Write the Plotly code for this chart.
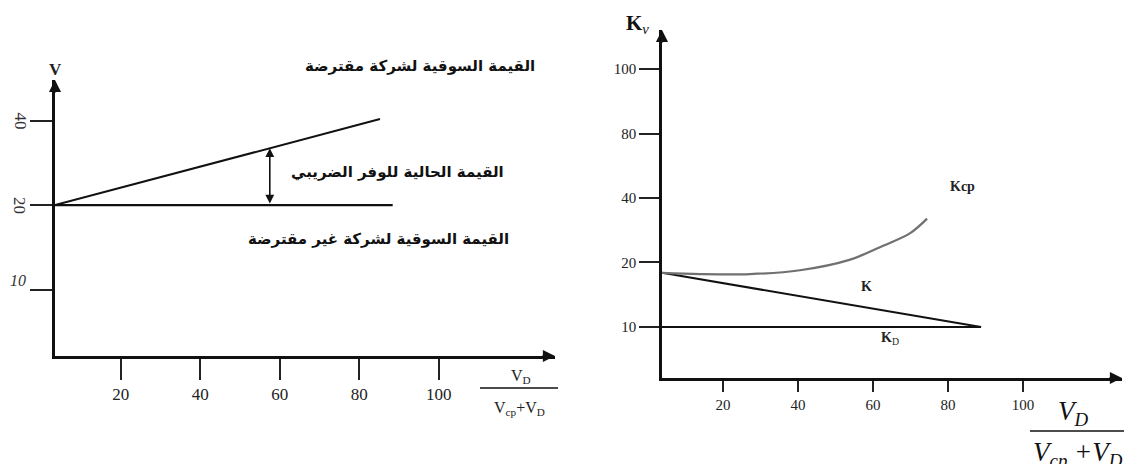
import numpy as np
import plotly.graph_objects as go

W, H = 1124, 464

# ---------------- Left panel: firm value V vs. debt ratio ----------------
v_xticks = [20, 40, 60, 80, 100]
v_yticks = [10, 20, 40]
v_ytick_labels = ["10", "20", "40"]
unlev_x = [3.5, 88.4]          # market value of unlevered firm
unlev_v = [20, 20]
lev_x = [3.5, 85.2]            # market value of levered firm
lev_v = [20, 40.5]
shield_x = 57.5                # present value of tax shield (arrow)

# ---------------- Right panel: cost of capital vs. debt ratio ----------------
k_xticks = [20, 40, 60, 80, 100]
k_yticks = [10, 20, 40, 80, 100]
k_ytick_labels = ["10", "20", "40", "80", "100"]
kd_x = [3.7, 88.8]
kd_y = [10, 10]
k_x = [3.7, 88.8]
k_y = [18.4, 10]
kcp_x = [3.7, 13.9, 27.2, 40.5, 53.9, 62.7, 69.9, 74.4]
kcp_y = [18.4, 18.2, 18.2, 18.8, 20.9, 25.2, 29.1, 33.6]

txt_lev = "القيمة السوقية لشركة مقترضة"
txt_shield = "القيمة الحالية للوفر الضريبي"
txt_unlev = "القيمة السوقية لشركة غير مقترضة"


def kscale(v):
    return np.interp(v, k_yticks, np.arange(len(k_yticks)))


def px(x):
    return x / W


def py(y):
    return 1 - y / H


SERIF = "Liberation Serif, Times New Roman, serif"
AR = "DejaVu Sans, Noto Sans, sans-serif"

fig = go.Figure()

# left panel traces
fig.add_trace(go.Scatter(x=unlev_x, y=unlev_v, mode="lines",
                         line=dict(color="#111", width=2.2), xaxis="x", yaxis="y"))
fig.add_trace(go.Scatter(x=lev_x, y=lev_v, mode="lines",
                         line=dict(color="#111", width=2), xaxis="x", yaxis="y"))

# right panel traces
fig.add_trace(go.Scatter(x=kd_x, y=kscale(kd_y), mode="lines",
                         line=dict(color="#111", width=2.2), xaxis="x2", yaxis="y2"))
fig.add_trace(go.Scatter(x=k_x, y=kscale(k_y), mode="lines",
                         line=dict(color="#111", width=2), xaxis="x2", yaxis="y2"))
fig.add_trace(go.Scatter(x=kcp_x, y=kscale(kcp_y), mode="lines",
                         line=dict(color="#707070", width=2.2, shape="spline", smoothing=1.0),
                         xaxis="x2", yaxis="y2"))

axis_common = dict(showgrid=False, zeroline=False, showline=True,
                   linecolor="#111", linewidth=2.5, ticks="outside",
                   tickcolor="#222", tickwidth=2)

fig.update_layout(
    width=W, height=H,
    margin=dict(l=0, r=0, t=0, b=0),
    paper_bgcolor="white", plot_bgcolor="white",
    showlegend=False,
    xaxis=dict(domain=[px(55), px(555)], range=[3.5, 129.2], anchor="y",
               tickvals=v_xticks, ticklen=21,
               tickfont=dict(family=SERIF, size=17, color="#222"), **axis_common),
    yaxis=dict(domain=[py(356), py(80)], type="log",
               range=[np.log10(5.80), np.log10(55.8)], anchor="x",
               tickvals=v_yticks, ticklen=22, showticklabels=False, **axis_common),
    xaxis2=dict(domain=[px(662), px(1122)], range=[3.7, 126.4], anchor="y2",
                tickvals=k_xticks, ticklen=11,
                tickfont=dict(family=SERIF, size=15, color="#222"), **axis_common),
    yaxis2=dict(domain=[py(378), py(30)], range=[-0.791, 4.605], anchor="x2",
                tickvals=list(range(len(k_yticks))), ticktext=k_ytick_labels,
                ticklen=20, tickfont=dict(family=SERIF, size=15, color="#222"),
                **axis_common),
)

ann = []
# axis arrowheads
for xa, ya in (("x", "y"), ("x2", "y2")):
    ann.append(dict(xref=f"{xa} domain", yref=f"{ya} domain", x=1, y=0, ax=-14, ay=0,
                    showarrow=True, arrowhead=2, arrowsize=1.1, arrowwidth=2.2,
                    arrowcolor="#111", text=""))
    ann.append(dict(xref=f"{xa} domain", yref=f"{ya} domain", x=0, y=1, ax=0, ay=14,
                    showarrow=True, arrowhead=2, arrowsize=1.1, arrowwidth=2.2,
                    arrowcolor="#111", text=""))

# tax shield double arrow
shield_top = 10 ** np.interp(shield_x, lev_x, np.log10(lev_v))
ann.append(dict(xref="x", yref="y", x=shield_x, y=np.log10(shield_top),
                axref="x", ayref="y", ax=shield_x, ay=np.log10(unlev_v[0]),
                showarrow=True, arrowhead=2, arrowside="end+start", arrowsize=1.1,
                arrowwidth=1.6, arrowcolor="#111", text=""))


def label(x, y, text, size, family=SERIF, color="#222", **kw):
    d = dict(xref="paper", yref="paper", x=px(x), y=py(y), text=text,
             showarrow=False, xanchor="center", yanchor="middle",
             font=dict(family=family, size=size, color=color))
    d.update(kw)
    ann.append(d)


# left y tick labels (rotated as in the drawing)
for val, lab in zip(v_yticks, v_ytick_labels):
    if lab == "10":
        ann.append(dict(xref="paper", yref="y", x=px(18), y=np.log10(val), yshift=9,
                        xanchor="center", yanchor="middle",
                        text=f"<i>{lab}</i>", showarrow=False,
                        font=dict(family=SERIF, size=16, color="#333")))
    else:
        ann.append(dict(xref="paper", yref="y", x=px(20), y=np.log10(val),
                        xanchor="center", yanchor="middle",
                        text=lab, textangle=90, showarrow=False,
                        font=dict(family=SERIF, size=17, color="#333")))

# axis titles
label(55, 69, "<b>V</b>", 17)
label(637, 24, "<b>K</b><sub><i>v</i></sub>", 21, color="#111")

# left fraction label
label(521, 376, "V<sub>D</sub>", 16)
label(519, 408, "V<sub>cp</sub>+V<sub>D</sub>", 16)

# right fraction label
label(1073, 413, "<i>V<sub>D</sub></i>", 27, color="#111")
label(1078, 454, "<i>V<sub>cp</sub> +V<sub>D</sub></i>", 27, color="#111")

# curve labels on right panel
label(962, 187, "<b>Kcp</b>", 14)
label(866, 286, "<b>K</b>", 14)
label(890, 338, "<b>K</b><sub>D</sub>", 14)

# Arabic labels on left panel
for t, (cx, cy) in ((txt_lev, (420, 66)), (txt_shield, (397, 172)), (txt_unlev, (378, 239))):
    label(cx, cy, f"<b>{t}</b>", 15, family=AR, color="#111")

fig.update_layout(annotations=ann)

shapes = [
    dict(type="line", xref="paper", yref="paper", x0=px(480), x1=px(558),
         y0=py(388), y1=py(388), line=dict(color="#111", width=1.5)),
    dict(type="line", xref="paper", yref="paper", x0=px(1030), x1=px(1124),
         y0=py(431), y1=py(431), line=dict(color="#111", width=1.5)),
]
fig.update_layout(shapes=shapes)

fig.write_html(
    "out.html",
    config={"displayModeBar": False},
    post_script="document.body.style.margin='0';document.body.style.overflow='hidden';",
)
